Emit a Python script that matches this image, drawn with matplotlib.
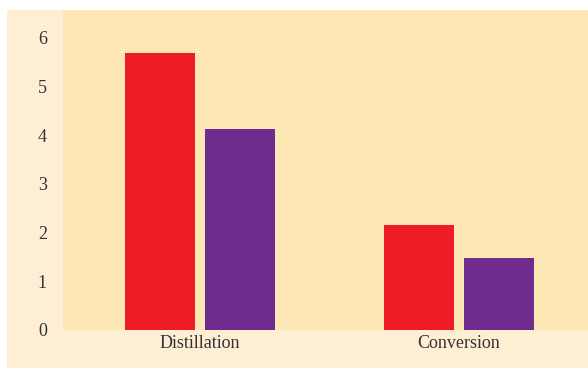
import matplotlib
matplotlib.use("Agg")
import matplotlib.pyplot as plt
from matplotlib.patches import Rectangle
import numpy as np

categories = ["Distillation", "Conversion"]
series_a = [5.69, 2.16]   # red
series_b = [4.13, 1.48]   # purple
yticks = [0, 1, 2, 3, 4, 5, 6]

plt.rcParams['font.family'] = ['Liberation Serif', 'DejaVu Serif']

fig = plt.figure(figsize=(5.88, 3.69), dpi=100, facecolor="white")
panel = Rectangle((7/588, 1/369), 1 - 7/588, (368-10)/369, transform=fig.transFigure,
                  facecolor="#FEEFD4", edgecolor="none", zorder=-10)
fig.patches.append(panel)

ax = fig.add_axes([63/588, 39/369, 1 - 63/588, (330-10)/369])
ax.set_zorder(5)
ax.set_facecolor("#FDE7B4")
x = np.arange(len(categories))
w = 0.27
off = 0.154
ax.bar(x - off, series_a, width=w, color="#EE1C25", zorder=2)
ax.bar(x + off, series_b, width=w, color="#6D2C8E", zorder=2)
ax.set_xlim(-0.529, 1.498)
ax.set_ylim(0, 6.57)
ax.set_xticks(x)
ax.set_xticklabels(categories)
ax.set_yticks(yticks)
ax.tick_params(axis="both", length=0, labelsize=13, labelcolor="#333333")
ax.tick_params(axis="y", pad=11.5)
ax.tick_params(axis="x", pad=3.5)
for s in ax.spines.values():
    s.set_visible(False)

fig.savefig("out.png", dpi=100, facecolor="white")
